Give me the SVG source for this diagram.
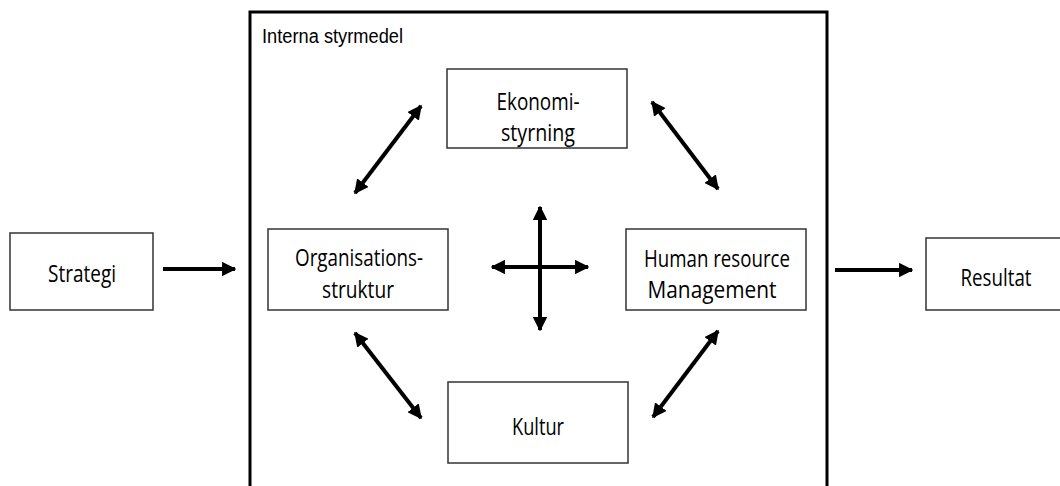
<svg xmlns="http://www.w3.org/2000/svg" width="1060" height="486" viewBox="0 0 1060 486">
<style>
.box{fill:#fff;stroke:#333;stroke-width:1.5}
.frame{fill:none;stroke:#000;stroke-width:3}
.t{font-family:"Open Sans","Liberation Sans",sans-serif;font-size:24px;fill:#000;text-anchor:middle}
.lbl{font-family:"Liberation Sans",sans-serif;font-size:20px;fill:#000}
.c{stroke:#000;stroke-width:4;fill:none;stroke-linecap:butt}
</style>
<defs>
<marker id="ah" viewBox="0 0 10 10" refX="9" refY="5" markerWidth="3.6" markerHeight="3.6" markerUnits="strokeWidth" orient="auto-start-reverse">
<path d="M0,0 L10,5 L0,10 Z" fill="#000"/>
</marker>
</defs>
<g id="frame">
<rect class="frame" x="250" y="12" width="577" height="490"/>
<text class="lbl" x="262" y="43" textLength="141" lengthAdjust="spacingAndGlyphs">Interna styrmedel</text>
</g>
<g id="strategi">
<rect class="box" x="10" y="233" width="143" height="77"/>
<text class="t" x="82" y="282" textLength="68" lengthAdjust="spacingAndGlyphs">Strategi</text>
</g>
<g id="ekonomi">
<rect class="box" x="447" y="69" width="180" height="79"/>
<text class="t" x="538" y="110" textLength="83" lengthAdjust="spacingAndGlyphs">Ekonomi-</text>
<text class="t" x="538" y="141" textLength="74" lengthAdjust="spacingAndGlyphs">styrning</text>
</g>
<g id="organisation">
<rect class="box" x="268" y="229" width="180" height="81"/>
<text class="t" x="359" y="266" textLength="128" lengthAdjust="spacingAndGlyphs">Organisations-</text>
<text class="t" x="358" y="298" textLength="72" lengthAdjust="spacingAndGlyphs">struktur</text>
</g>
<g id="hrm">
<rect class="box" x="626" y="229" width="180" height="81"/>
<text class="t" x="717" y="267" textLength="146" lengthAdjust="spacingAndGlyphs">Human resource</text>
<text class="t" x="712" y="298" textLength="129" lengthAdjust="spacingAndGlyphs">Management</text>
</g>
<g id="kultur">
<rect class="box" x="448" y="382" width="180" height="81"/>
<text class="t" x="538" y="435" textLength="52" lengthAdjust="spacingAndGlyphs">Kultur</text>
</g>
<g id="resultat">
<rect class="box" x="926" y="238" width="140" height="72"/>
<text class="t" x="996" y="286" textLength="71" lengthAdjust="spacingAndGlyphs">Resultat</text>
</g>
<g id="connectors">
<line class="c" x1="163" y1="269" x2="235" y2="269" marker-end="url(#ah)"/>
<line class="c" x1="835" y1="270" x2="912" y2="270" marker-end="url(#ah)"/>
<line class="c" x1="355" y1="193" x2="421" y2="106" marker-start="url(#ah)" marker-end="url(#ah)"/>
<line class="c" x1="652" y1="102" x2="718" y2="189" marker-start="url(#ah)" marker-end="url(#ah)"/>
<line class="c" x1="355" y1="333" x2="421" y2="418" marker-start="url(#ah)" marker-end="url(#ah)"/>
<line class="c" x1="718" y1="331" x2="653" y2="417" marker-start="url(#ah)" marker-end="url(#ah)"/>
<line class="c" x1="540" y1="207" x2="540" y2="330" marker-start="url(#ah)" marker-end="url(#ah)"/>
<line class="c" x1="492" y1="267" x2="588" y2="267" marker-start="url(#ah)" marker-end="url(#ah)"/>
</g>
</svg>
